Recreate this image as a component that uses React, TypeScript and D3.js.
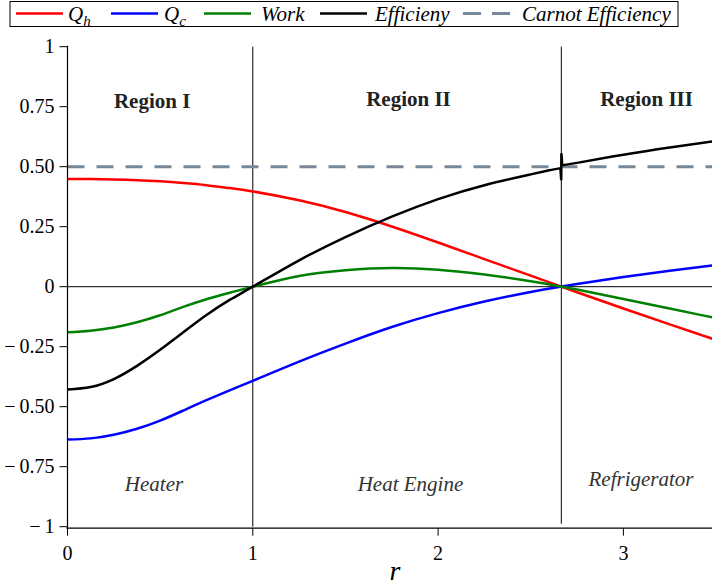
import React from 'react';
import * as d3 from 'd3';

const WIDTH = 712;
const HEIGHT = 587;

const rVals = [0, 0.125, 0.25, 0.375, 0.5, 0.625, 0.75, 0.875, 1, 1.25, 1.5, 1.75, 2, 2.25, 2.5, 2.75, 3, 3.25, 3.5];
const qhVals = [0.449, 0.4485, 0.447, 0.444, 0.439, 0.432, 0.423, 0.411, 0.397, 0.36, 0.311, 0.251, 0.184, 0.115, 0.046, -0.023, -0.091, -0.157, -0.222];
const qcVals = [-0.637, -0.632, -0.617, -0.592, -0.558, -0.516, -0.473, -0.432, -0.392, -0.312, -0.237, -0.168, -0.11, -0.062, -0.022, 0.011, 0.04, 0.066, 0.09];
const workVals = [-0.19, -0.1835, -0.17, -0.148, -0.119, -0.084, -0.052, -0.025, 0, 0.045, 0.069, 0.078, 0.071, 0.051, 0.023, -0.012, -0.051, -0.091, -0.131];

const effLeftR = [0, 0.125, 0.25, 0.375, 0.5, 0.625, 0.75, 0.875, 1, 1.25, 1.5, 1.75, 2, 2.25, 2.5, 2.6, 2.66];
const effLeftV = [-0.428, -0.418, -0.385, -0.33, -0.263, -0.19, -0.118, -0.055, 0, 0.11, 0.207, 0.292, 0.365, 0.423, 0.468, 0.485, 0.494];
const effGlitchR = [2.66, 2.6645, 2.6655, 2.67];
const effGlitchV = [0.494, 0.444, 0.556, 0.506];
const effRightR = [2.67, 2.75, 3, 3.25, 3.5];
const effRightV = [0.506, 0.516, 0.55, 0.58, 0.607];

const carnotEff = 0.5;
const regionBounds = [1, 2.665];

const xTicks = [0, 1, 2, 3];
const xTickLabels = ['0', '1', '2', '3'];
const yTicks = [1, 0.75, 0.5, 0.25, 0, -0.25, -0.5, -0.75, -1];
const yTickLabels = ['1', '0.75', '0.50', '0.25', '0', '\u2212\u20090.25', '\u2212\u20090.50', '\u2212\u20090.75', '\u2212\u20091'];

const regionTitles = ['Region I', 'Region II', 'Region III'];
const regionTitleR = [0.457, 1.84, 3.125];
const regionTitleV = [0.745, 0.752, 0.752];
const modeLabels = ['Heater', 'Heat Engine', 'Refrigerator'];
const modeLabelR = [0.467, 1.851, 3.095];
const modeLabelV = [-0.85, -0.85, -0.83];

const legendLabels = ['Q', 'Q', 'Work', 'Efficieny', 'Carnot Efficiency'];
const legendSubs = ['h', 'c', '', '', ''];
const legendColors = ['#ff0000', '#0000ff', '#008000', '#000000', '#778899'];
const legendLineX = [16, 111, 204, 320, 463];
const legendTextX = [68, 164, 261, 375, 522];

const FONT = 'Liberation Serif';
const tStyle = { fontFamily: FONT };

export default function App() {
  const x = d3.scaleLinear().domain([0, 3.5]).range([67.5, 67.5 + 3.5 * 185.3]);
  const y = d3.scaleLinear().domain([-1, 1]).range([526.7, 46.7]);

  const smooth = d3
    .line<[number, number]>()
    .x((d) => x(d[0]))
    .y((d) => y(d[1]))
    .curve(d3.curveNatural);
  const straight = d3
    .line<[number, number]>()
    .x((d) => x(d[0]))
    .y((d) => y(d[1]));

  const zip = (rs: number[], vs: number[]) => rs.map((r, i) => [r, vs[i]] as [number, number]);

  const series = [
    { vals: qhVals, color: '#ff0000' },
    { vals: qcVals, color: '#0000ff' },
    { vals: workVals, color: '#008000' },
  ];

  const x0 = x(0);
  const xEnd = x(3.5);

  return (
    <svg
      width={WIDTH}
      height={HEIGHT}
      style={{ position: 'absolute', left: 0, top: 0, background: '#fff', fontFamily: FONT }}
    >
      <defs>
        <clipPath id="plotclip">
          <rect x={x0} y={0} width={WIDTH - x0} height={HEIGHT} />
        </clipPath>
      </defs>

      {regionBounds.map((r, i) => (
        <line key={'rb' + i} x1={x(r)} x2={x(r)} y1={y(1)} y2={y(-1) + (i === 1 ? -3 : 0)} stroke="#000" strokeWidth={1} />
      ))}

      <line x1={x0} x2={WIDTH} y1={y(0)} y2={y(0)} stroke="#000" strokeWidth={1} />

      <line
        x1={x0}
        x2={xEnd}
        y1={y(carnotEff)}
        y2={y(carnotEff)}
        stroke="#778899"
        strokeWidth={3}
        strokeDasharray="17,12"
      />

      <g clipPath="url(#plotclip)">
        {series.map((s, i) => (
          <path key={'s' + i} d={smooth(zip(rVals, s.vals)) || ''} fill="none" stroke={s.color} strokeWidth={2.5} />
        ))}
        <path d={smooth(zip(effLeftR, effLeftV)) || ''} fill="none" stroke="#000" strokeWidth={2.5} />
        <path d={straight(zip(effGlitchR, effGlitchV)) || ''} fill="none" stroke="#000" strokeWidth={2.5} />
        <path d={smooth(zip(effRightR, effRightV)) || ''} fill="none" stroke="#000" strokeWidth={2.5} />
      </g>

      <line x1={x0} x2={x0} y1={y(1) - 1} y2={y(-1) + 2} stroke="#000" strokeWidth={1.2} />
      {yTicks.map((t, i) => (
        <g key={'yt' + i}>
          <line x1={x0 - 8} x2={x0} y1={y(t)} y2={y(t)} stroke="#000" strokeWidth={1} />
          <text x={x0 - 13} y={y(t) + 6.5} textAnchor="end" fontSize={20} style={tStyle}>
            {yTickLabels[i]}
          </text>
        </g>
      ))}

      <line x1={x0 - 1} x2={WIDTH} y1={y(-1) + 1.5} y2={y(-1) + 1.5} stroke="#000" strokeWidth={1.2} />
      {xTicks.map((t, i) => (
        <g key={'xt' + i}>
          <line x1={x(t)} x2={x(t)} y1={y(-1) + 1.5} y2={y(-1) + 9} stroke="#000" strokeWidth={1} />
          <text x={x(t)} y={560} textAnchor="middle" fontSize={20} style={tStyle}>
            {xTickLabels[i]}
          </text>
        </g>
      ))}
      <text x={395} y={580} textAnchor="middle" fontSize={28} fontStyle="italic" style={tStyle}>
        r
      </text>

      {regionTitles.map((t, i) => (
        <text key={'rt' + i} x={x(regionTitleR[i])} y={y(regionTitleV[i])} textAnchor="middle" fontSize={21} fontWeight="bold" fill="#222" style={tStyle}>
          {t}
        </text>
      ))}
      {modeLabels.map((t, i) => (
        <text key={'ml' + i} x={x(modeLabelR[i])} y={y(modeLabelV[i])} textAnchor="middle" fontSize={21} fontStyle="italic" fill="#333" style={tStyle}>
          {t}
        </text>
      ))}

      <rect x={10} y={1.5} width={668} height={25} fill="#fff" stroke="#000" strokeWidth={1} />
      {legendLabels.map((lab, i) => (
        <g key={'lg' + i}>
          <line
            x1={legendLineX[i]}
            x2={legendLineX[i] + 47}
            y1={13.5}
            y2={13.5}
            stroke={legendColors[i]}
            strokeWidth={i === 4 ? 3 : 2.5}
            strokeDasharray={i === 4 ? '18,11' : undefined}
          />
          <text x={legendTextX[i]} y={20.5} fontSize={21} fontStyle="italic" style={tStyle}>
            {lab}
            {legendSubs[i] ? (
              <tspan fontSize={15} dy={5}>
                {legendSubs[i]}
              </tspan>
            ) : null}
          </text>
        </g>
      ))}
    </svg>
  );
}
